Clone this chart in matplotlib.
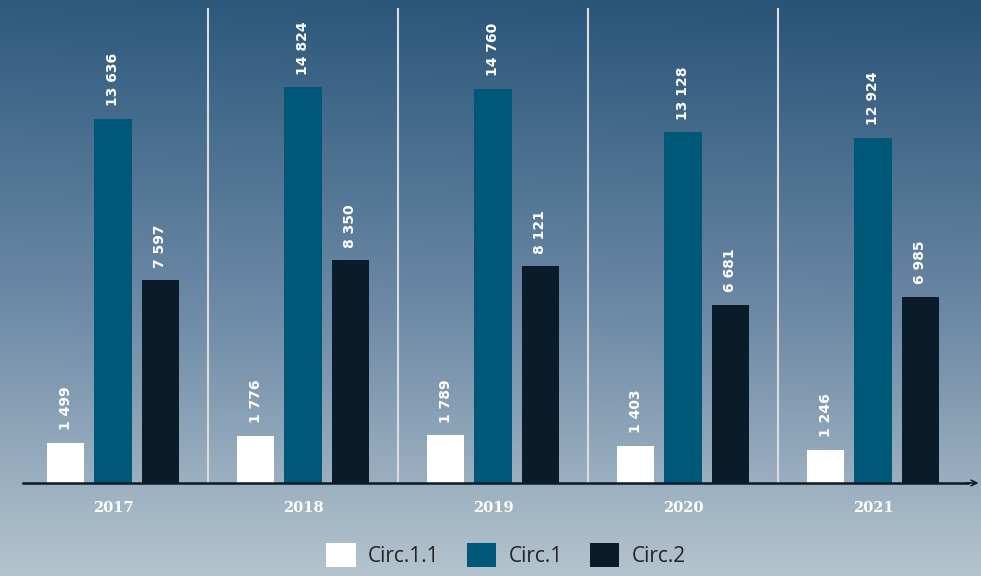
import numpy as np
import matplotlib
matplotlib.use("Agg")
import matplotlib.pyplot as plt
from matplotlib.patches import Patch

years = ["2017", "2018", "2019", "2020", "2021"]
circ11 = [1499, 1776, 1789, 1403, 1246]
circ1 = [13636, 14824, 14760, 13128, 12924]
circ2 = [7597, 8350, 8121, 6681, 6985]
series_names = ["Circ.1.1", "Circ.1", "Circ.2"]
colors = ["#ffffff", "#005878", "#0a1c2a"]

W, H = 981, 576
fig = plt.figure(figsize=(W / 100, H / 100), dpi=100)

# background gradient
bg = fig.add_axes([0, 0, 1, 1], zorder=-10)
ny, nx = 200, 50
t = np.linspace(0, 1, ny)[:, None]
s = np.linspace(0, 1, nx)[None, :]
top = np.array([46, 90, 126]) / 255
mid = np.array([112, 140, 168]) / 255
bot = np.array([180, 196, 206]) / 255
img = np.zeros((ny, nx, 3))
for c in range(3):
    tt = t * np.ones_like(s)
    lower = top[c] + (mid[c] - top[c]) * (tt / 0.55)
    upper = mid[c] + (bot[c] - mid[c]) * ((tt - 0.55) / 0.45)
    img[:, :, c] = np.where(tt < 0.55, lower, upper) - 0.03 * s * (1 - tt)
img = np.clip(img, 0, 1)
bg.imshow(img, aspect="auto", extent=[0, 1, 0, 1], origin="upper", interpolation="bilinear")
bg.axis("off")

# main axes: x from 18 to 968 px, y from 483 (baseline) to 0
ax = fig.add_axes([18 / W, (H - 483) / H, 950 / W, 483 / H])
ax.patch.set_alpha(0)
ymax = 483 / 0.02670
ax.set_ylim(0, ymax)
ax.set_xlim(-0.5, len(years) - 0.5)

x = np.arange(len(years))
offsets = [-0.25, 0.0, 0.25]
width = 0.195
for vals, off, col in zip([circ11, circ1, circ2], offsets, colors):
    ax.bar(x + off, vals, width=width, color=col, zorder=3)
    for xi, v in zip(x, vals):
        lbl = f"{v:,}".replace(",", " ")
        ax.annotate(lbl, (xi + off, v), xytext=(0, 9), textcoords="offset points",
                    rotation=90, ha="center", va="bottom", color="white",
                    fontsize=10, fontweight="bold", family="DejaVu Sans")

# separators
for xi in x[:-1]:
    ax.axvline(xi + 0.5, ymin=0, ymax=474 / 483, color="#dcdcdc", lw=1.5, zorder=1)

# axis line with arrow
ax.plot([5 / 950, 1.0], [0, 0], transform=ax.transAxes, color="#0a1c2a", lw=1.8,
        clip_on=False, zorder=4)
ax.annotate("", xy=(1.014, 0), xytext=(0.995, 0), xycoords="axes fraction",
            arrowprops=dict(arrowstyle="->", color="#0a1c2a", lw=1.2), annotation_clip=False)

for spine in ax.spines.values():
    spine.set_visible(False)
ax.set_yticks([])
ax.set_xticks(x)
ax.set_xticklabels(years, fontsize=10.5, fontweight="bold", color="white", family="DejaVu Serif")
ax.tick_params(axis="x", length=0, pad=13)

handles = [Patch(facecolor=c, edgecolor="none") for c in colors]
fig.legend(handles, series_names, loc="center", bbox_to_anchor=(506 / W, 1 - 555 / H),
           ncol=3, frameon=False, handlelength=1.4, handleheight=1.4,
           handletextpad=0.6, columnspacing=1.3, labelcolor="#222222",
           prop={"family": "Open Sans", "size": 15})

fig.savefig("out.png", dpi=100)
